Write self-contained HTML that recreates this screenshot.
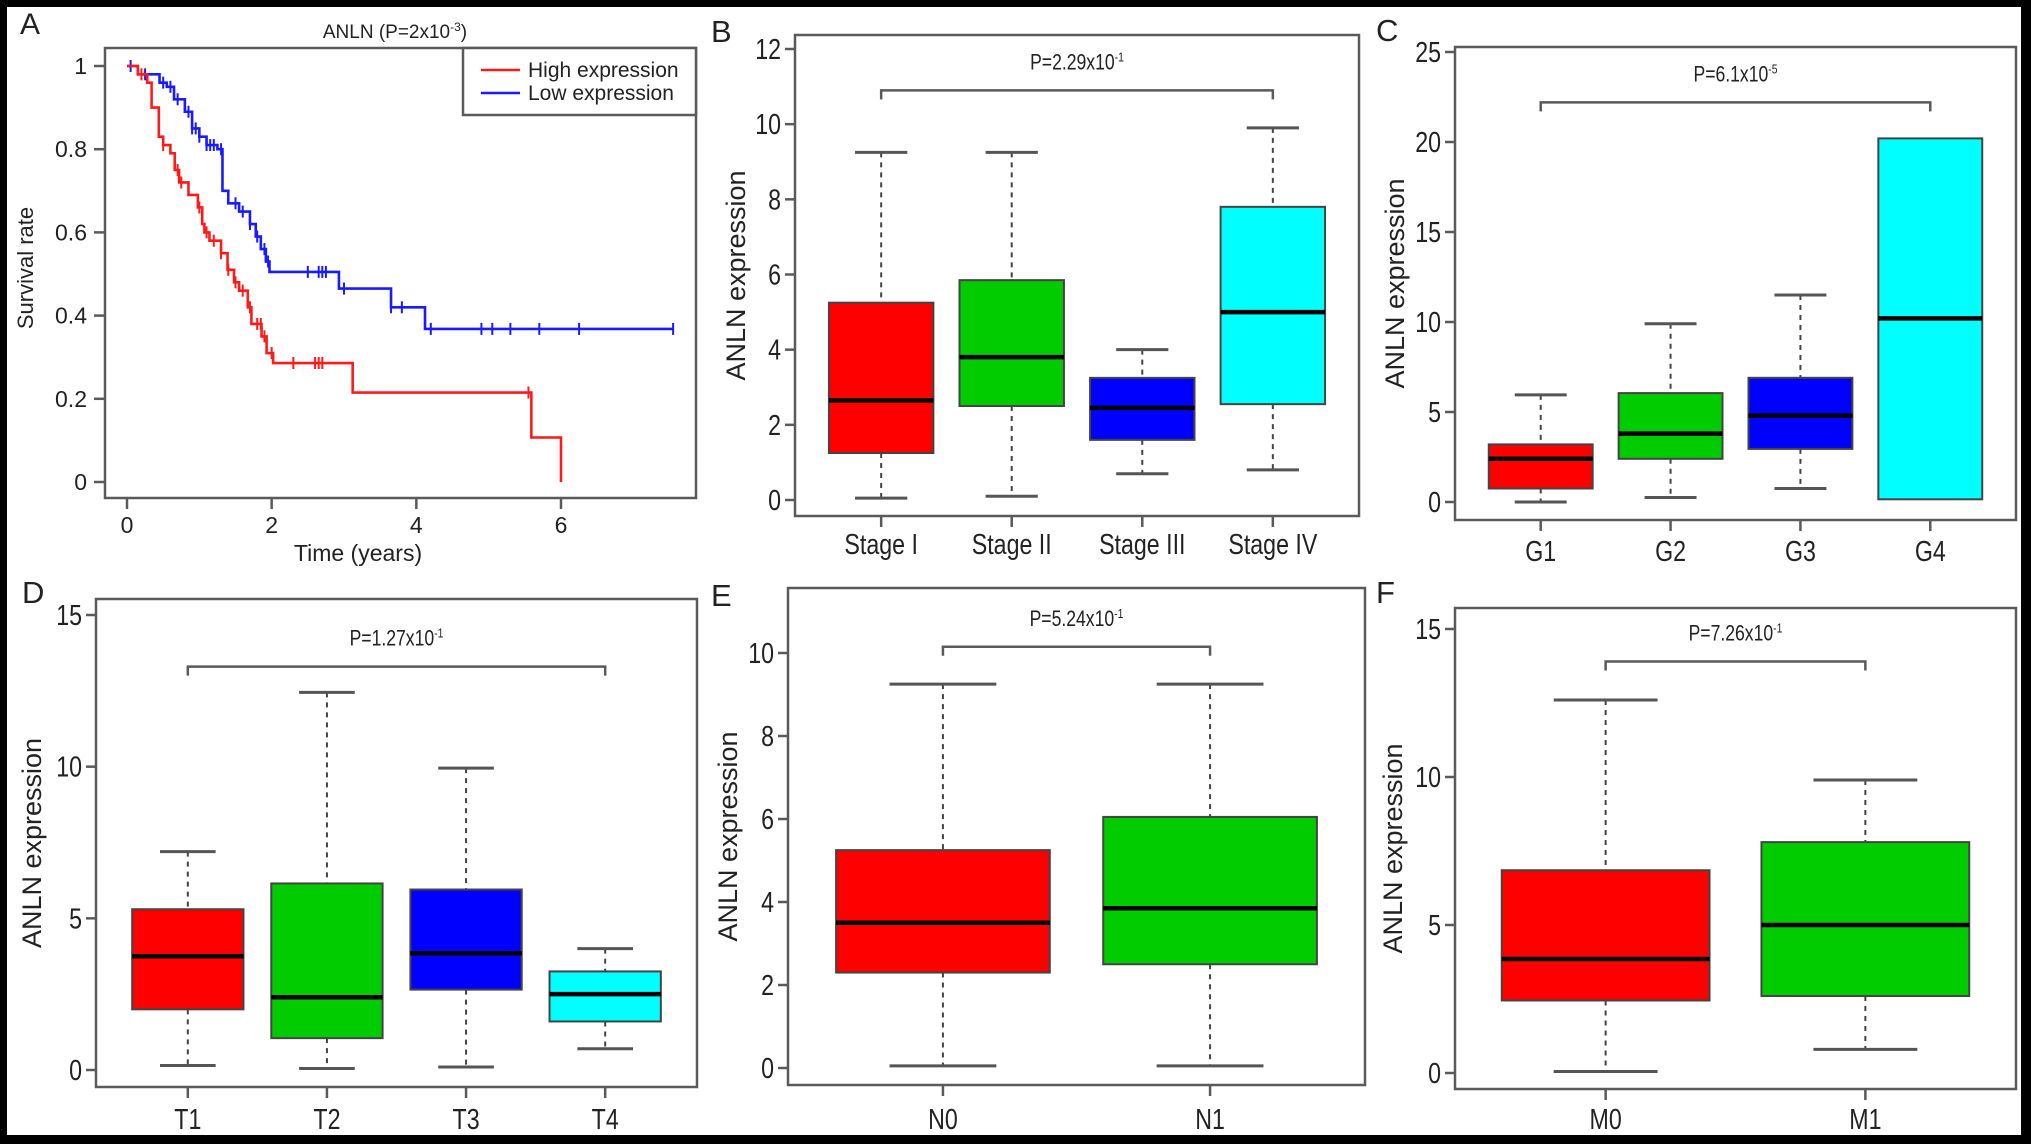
<!DOCTYPE html>
<html><head><meta charset="utf-8"><style>
html,body{margin:0;padding:0;background:#000;}
svg{display:block;}
text{font-family:"Liberation Sans",sans-serif;fill:#222;}
</style></head><body>
<svg id="fig" width="2031" height="1144" viewBox="0 0 2031 1144" xmlns="http://www.w3.org/2000/svg">
<rect x="7" y="7" width="2014" height="1128" fill="#fff"/>
</svg>
<script>
// ---------- Panel A: Kaplan-Meier data ----------
const kmHighTimes=[0,0.15,0.28,0.34,0.44,0.5,0.6,0.66,0.72,0.85,0.98,1.04,1.07,1.14,1.3,1.39,1.48,1.55,1.67,1.72,1.86,1.93,2.02,3.12,5.59,6.0];
const kmHighSurv=[1,0.98,0.96,0.9,0.83,0.81,0.79,0.75,0.72,0.69,0.66,0.62,0.6,0.58,0.55,0.51,0.48,0.46,0.42,0.38,0.35,0.31,0.286,0.215,0.107,0];
const kmHighCens=[0.2,0.5,0.7,0.75,1.0,1.1,1.2,1.3,1.4,1.5,1.6,1.7,1.8,1.85,1.9,2.0,2.3,2.6,2.65,2.7,5.55];
const kmLowTimes=[0,0.15,0.45,0.55,0.65,0.8,0.9,1.0,1.1,1.25,1.32,1.4,1.55,1.7,1.78,1.85,1.92,1.97,2.93,3.65,4.12];
const kmLowSurv=[1,0.98,0.96,0.95,0.92,0.89,0.85,0.83,0.81,0.8,0.7,0.67,0.65,0.62,0.59,0.56,0.53,0.505,0.465,0.42,0.368];
const kmLowCens=[0.05,0.25,0.5,0.6,0.7,0.85,0.9,0.95,1.0,1.1,1.15,1.2,1.3,1.5,1.6,1.7,1.8,1.9,1.95,2.5,2.65,2.7,2.75,3.0,3.65,3.8,4.2,4.9,5.05,5.3,5.7,6.25,7.55];
const kmLowEnd=7.55;
const kmXTicks=[0,2,4,6];
const kmYTicks=[0,0.2,0.4,0.6,0.8,1];
const kmYTickLabels=["0","0.2","0.4","0.6","0.8","1"];

// ---------- Panel B ----------
const stageCats=["Stage I","Stage II","Stage III","Stage IV"];
const stageMin=[0.05,0.1,0.7,0.8];
const stageQ1=[1.25,2.5,1.6,2.55];
const stageMed=[2.65,3.8,2.45,5.0];
const stageQ3=[5.25,5.85,3.25,7.8];
const stageMax=[9.25,9.25,4.0,9.9];
const stageTicks=[0,2,4,6,8,10,12];
// ---------- Panel C ----------
const gradeCats=["G1","G2","G3","G4"];
const gradeMin=[0,0.25,0.75,0.15];
const gradeQ1=[0.75,2.4,2.95,0.15];
const gradeMed=[2.4,3.8,4.8,10.2];
const gradeQ3=[3.2,6.05,6.9,20.2];
const gradeMax=[5.95,9.9,11.5,20.2];
const gradeTicks=[0,5,10,15,20,25];
// ---------- Panel D ----------
const tCats=["T1","T2","T3","T4"];
const tMin=[0.15,0.05,0.1,0.7];
const tQ1=[2.0,1.05,2.65,1.6];
const tMed=[3.75,2.4,3.85,2.5];
const tQ3=[5.3,6.15,5.95,3.25];
const tMax=[7.2,12.45,9.95,4.0];
const tTicks=[0,5,10,15];
// ---------- Panel E ----------
const nCats=["N0","N1"];
const nMin=[0.05,0.05];
const nQ1=[2.3,2.5];
const nMed=[3.5,3.85];
const nQ3=[5.25,6.05];
const nMax=[9.25,9.25];
const nTicks=[0,2,4,6,8,10];
// ---------- Panel F ----------
const mCats=["M0","M1"];
const mMin=[0.05,0.8];
const mQ1=[2.45,2.6];
const mMed=[3.85,5.0];
const mQ3=[6.85,7.8];
const mMax=[12.6,9.9];
const mTicks=[0,5,10,15];

const NS="http://www.w3.org/2000/svg";
const svg=document.getElementById('fig');
function mk(tag,attrs,parent){const e=document.createElementNS(NS,tag);for(const k in attrs)e.setAttribute(k,attrs[k]);(parent||svg).appendChild(e);return e;}
const AX="#5a5a5a";
const SQ=0.8;
function ntext(x,y,size,anchor,parent){
  return mk('text',{x:0,y:0,'font-size':size,'text-anchor':anchor,transform:`translate(${x},${y}) scale(${SQ},1)`},parent);
}

// ---------- Panel A drawing ----------
(function(){
  const g=mk('g',{});
  
  
  const L=105,R=696,T=48,B=498;
  const xs=v=>127+v*(561-127)/6;
  const ys=v=>482-v*(482-66);
  const box=mk('rect',{x:L,y:T,width:R-L,height:B-T,fill:'none',stroke:AX,'stroke-width':2.5},g);
  
  
  kmXTicks.forEach(v=>{
    const l=mk('line',{x1:xs(v),x2:xs(v),y1:B,y2:B+11,stroke:AX,'stroke-width':2.5},g);
    
    
    const t=mk('text',{x:xs(v),y:B+35,'font-size':23,'text-anchor':'middle'},g);t.textContent=v;
    
    
  });
  kmYTicks.forEach((v,i)=>{
    const l=mk('line',{x1:L-11,x2:L,y1:ys(v),y2:ys(v),stroke:AX,'stroke-width':2.5},g);
    
    
    const t=mk('text',{x:L-18,y:ys(v)+8,'font-size':23,'text-anchor':'end'},g);t.textContent=kmYTickLabels[i];
    
    
  });
  const xt=mk('text',{x:(xs(0)+xs(6))/2+14,y:561,'font-size':23,'text-anchor':'middle'},g);xt.textContent='Time (years)';
  
  
  const yt=mk('text',{x:0,y:0,'font-size':22,'text-anchor':'middle',transform:'translate(33,268) rotate(-90)'},g);yt.textContent='Survival rate';
  
  
  const tt=mk('text',{x:395,y:38,'font-size':19,'text-anchor':'middle'},g);
  tt.innerHTML='ANLN (P=2x10<tspan dy="-7" font-size="12">-3</tspan><tspan dy="7">)</tspan>';
  
  
  function stepPath(times,surv,end){
    let d='M'+xs(times[0])+','+ys(surv[0]);
    for(let i=1;i<times.length;i++){d+=' H'+xs(times[i])+' V'+ys(surv[i]);}
    if(end!==undefined)d+=' H'+xs(end);
    return d;
  }
  function survAt(times,surv,t){let s=surv[0];for(let i=0;i<times.length;i++){if(times[i]<=t)s=surv[i];}return s;}
  function series(times,surv,cens,end,col,name){
    const p=mk('path',{d:stepPath(times,surv,end),fill:'none',stroke:col,'stroke-width':2.6},g);
    
    
    cens.forEach(c=>{
      const s=survAt(times,surv,c);
      const m=mk('line',{x1:xs(c),x2:xs(c),y1:ys(s)-6,y2:ys(s)+6,stroke:col,'stroke-width':2},g);
      
      
    });
  }
  series(kmLowTimes,kmLowSurv,kmLowCens,kmLowEnd,'#1a1aff','low-expression');
  series(kmHighTimes,kmHighSurv,kmHighCens,undefined,'#ff1a1a','high-expression');
  const lg=mk('g',{},g);
  
  
  mk('rect',{x:463,y:48,width:233,height:67,fill:'#fff',stroke:AX,'stroke-width':2.5},lg);
  [['High expression','#ff1a1a',69],['Low expression','#1a1aff',92]].forEach(r=>{
    const e=mk('g',{},lg);
    
    
    mk('line',{x1:481,x2:520,y1:r[2]+1,y2:r[2]+1,stroke:r[1],'stroke-width':2.6},e);
    const t=mk('text',{x:528,y:r[2]+8,'font-size':21},e);t.textContent=r[0];
  });
  const lt=mk('text',{x:20,y:34,'font-size':30},g);lt.textContent='A';
  
  
})();

// ---------- Box panels ----------
const COLS=['#ff0000','#00cc00','#0000ff','#00ffff'];
function boxPanel(c){
  const g=mk('g',{});
  
  
  const ys=v=>c.p0+v*(c.p1-c.p0)/c.v1;
  const n=c.cats.length;
  const lo=0.5-0.04*n, span=n+0.08*n;
  const xc=i=>c.L+(i+1-lo)/span*(c.R-c.L);
  const step=(c.R-c.L)/span;
  const bw=step*0.8;
  const fr=mk('rect',{x:c.L,y:c.T,width:c.R-c.L,height:c.B-c.T,fill:'none',stroke:AX,'stroke-width':2.5},g);
  
  
  c.ticks.forEach(v=>{
    const l=mk('line',{x1:c.L-10,x2:c.L,y1:ys(v),y2:ys(v),stroke:AX,'stroke-width':2.5},g);
    
    
    const t=ntext(c.L-14,ys(v)+10,29,'end',g);t.textContent=v;
    
    
  });
  c.cats.forEach((cat,i)=>{
    const x=xc(i);
    const l=mk('line',{x1:x,x2:x,y1:c.B,y2:c.B+11,stroke:AX,'stroke-width':2.5},g);
    
    
    const t=ntext(x,c.xl,29,'middle',g);t.textContent=cat;
    
    
    const bx=mk('g',{},g);
    
    
    const cap=bw/2;
    if(c.max[i]>c.q3[i]){
      mk('line',{x1:x,x2:x,y1:ys(c.max[i]),y2:ys(c.q3[i]),stroke:'#444','stroke-width':2,'stroke-dasharray':'5,5'},bx);
      mk('line',{x1:x-cap/2,x2:x+cap/2,y1:ys(c.max[i]),y2:ys(c.max[i]),stroke:'#555','stroke-width':3},bx);
    }
    if(c.min[i]<c.q1[i]){
      mk('line',{x1:x,x2:x,y1:ys(c.q1[i]),y2:ys(c.min[i]),stroke:'#444','stroke-width':2,'stroke-dasharray':'5,5'},bx);
      mk('line',{x1:x-cap/2,x2:x+cap/2,y1:ys(c.min[i]),y2:ys(c.min[i]),stroke:'#555','stroke-width':3},bx);
    }
    mk('rect',{x:x-bw/2,y:ys(c.q3[i]),width:bw,height:ys(c.q1[i])-ys(c.q3[i]),fill:COLS[i],stroke:'#444','stroke-width':2},bx);
    mk('line',{x1:x-bw/2,x2:x+bw/2,y1:ys(c.med[i]),y2:ys(c.med[i]),stroke:'#000','stroke-width':4.5},bx);
  });
  const by=ys(c.br), x1=xc(0), x2=xc(n-1);
  const br=mk('path',{d:`M${x1},${by+9} V${by} H${x2} V${by+9}`,fill:'none',stroke:AX,'stroke-width':2.5},g);
  
  
  const pt=ntext((x1+x2)/2,by-21,22,'middle',g);
  pt.innerHTML=c.p+'<tspan dy="-8" font-size="13">'+c.pe+'</tspan>';
  
  
  const yt=mk('text',{x:0,y:0,'font-size':27,'text-anchor':'middle',transform:`translate(${c.yl},${(c.T+c.B)/2}) rotate(-90)`},g);
  yt.textContent='ANLN expression';
  
  
  const lt=mk('text',{x:c.lx,y:c.ly,'font-size':31},g);lt.textContent=c.letter;
  
  
}
boxPanel({name:'stage-boxplot-b',cats:stageCats,min:stageMin,q1:stageQ1,med:stageMed,q3:stageQ3,max:stageMax,ticks:stageTicks,
  L:795,R:1359,T:35,B:516,p0:500,p1:49,v1:12,br:10.9,p:'P=2.29x10',pe:'-1',xl:554,yl:745,lx:711,ly:42,letter:'B'});
boxPanel({name:'grade-boxplot-c',cats:gradeCats,min:gradeMin,q1:gradeQ1,med:gradeMed,q3:gradeQ3,max:gradeMax,ticks:gradeTicks,
  L:1455,R:2016,T:47,B:520,p0:502,p1:52,v1:25,br:22.2,p:'P=6.1x10',pe:'-5',xl:561,yl:1404,lx:1376,ly:41,letter:'C'});
boxPanel({name:'t-stage-boxplot-d',cats:tCats,min:tMin,q1:tQ1,med:tMed,q3:tQ3,max:tMax,ticks:tTicks,
  L:96,R:697,T:599,B:1087,p0:1070,p1:615,v1:15,br:13.3,p:'P=1.27x10',pe:'-1',xl:1129,yl:41,lx:22,ly:603,letter:'D'});
boxPanel({name:'n-stage-boxplot-e',cats:nCats,min:nMin,q1:nQ1,med:nMed,q3:nQ3,max:nMax,ticks:nTicks,
  L:788,R:1365,T:588,B:1085,p0:1068,p1:653,v1:10,br:10.15,p:'P=5.24x10',pe:'-1',xl:1129,yl:737,lx:711,ly:606,letter:'E'});
boxPanel({name:'m-stage-boxplot-f',cats:mCats,min:mMin,q1:mQ1,med:mMed,q3:mQ3,max:mMax,ticks:mTicks,
  L:1455,R:2016,T:608,B:1089,p0:1073,p1:629,v1:15,br:13.9,p:'P=7.26x10',pe:'-1',xl:1129,yl:1402,lx:1376,ly:603,letter:'F'});
</script>
</body></html>
